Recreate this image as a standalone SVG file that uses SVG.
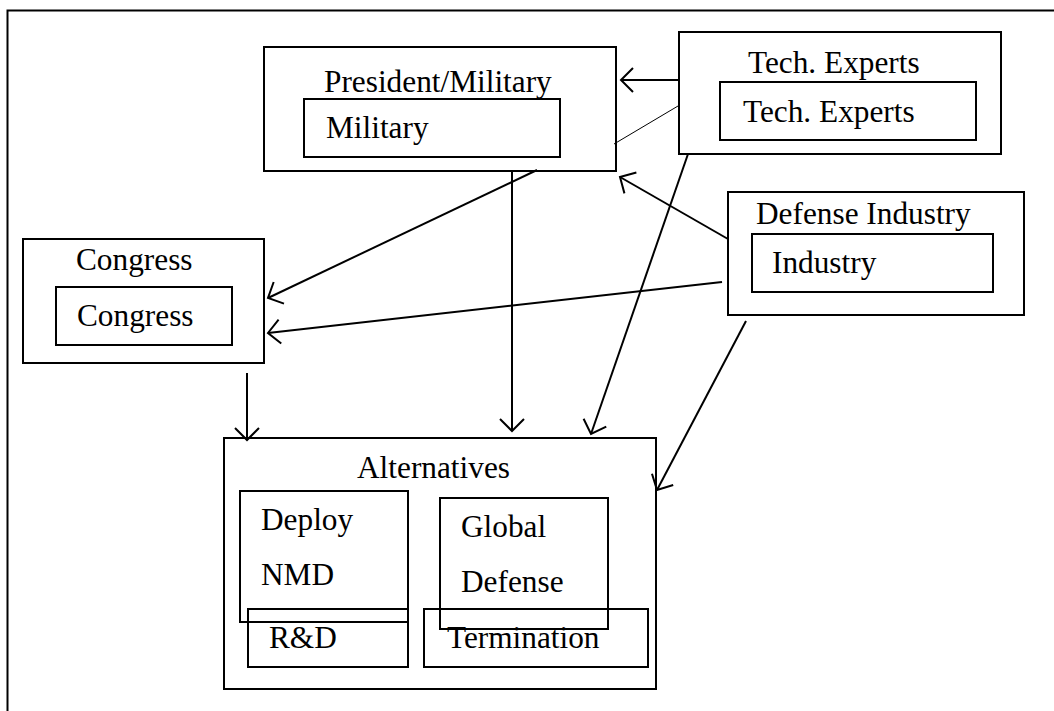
<svg xmlns="http://www.w3.org/2000/svg" width="1054" height="711" viewBox="0 0 1054 711">
<style>
.box{fill:none;stroke:#000;stroke-width:2}
.t{font-family:"Liberation Serif","Times New Roman",serif;font-size:31.3px;fill:#000}
.c{fill:none;stroke:#000;stroke-width:2}
.thin{fill:none;stroke:#000;stroke-width:1}
</style>
<defs>
<marker id="arr" viewBox="-16 -16 32 32" refX="0" refY="0" markerWidth="32" markerHeight="32" markerUnits="userSpaceOnUse" orient="auto" overflow="visible">
<path d="M-12,-12 L0,0 L-12,12" fill="none" stroke="#000" stroke-width="2"/>
</marker>
</defs>
<rect width="1054" height="711" fill="#fff"/>
<path d="M7.5,711 V10.5 H1054" class="box"/>
<g id="president">
<rect x="264" y="47" width="352" height="124" class="box"/>
<text x="324" y="92" class="t">President/Military</text>
<rect x="304" y="99" width="256" height="58" class="box"/>
<text x="326" y="138" class="t">Military</text>
</g>
<g id="tech">
<rect x="679" y="32" width="322" height="122" class="box"/>
<text x="748" y="73" class="t">Tech. Experts</text>
<rect x="720" y="82" width="256" height="58" class="box"/>
<text x="743" y="122" class="t">Tech. Experts</text>
</g>
<g id="industry">
<rect x="728" y="192" width="296" height="123" class="box"/>
<text x="756" y="224" class="t">Defense Industry</text>
<rect x="752" y="234" width="241" height="58" class="box"/>
<text x="772" y="273" class="t">Industry</text>
</g>
<g id="congress">
<rect x="23" y="239" width="241" height="124" class="box"/>
<text x="76" y="270" class="t">Congress</text>
<rect x="56" y="287" width="176" height="58" class="box"/>
<text x="77" y="326" class="t">Congress</text>
</g>
<g id="alternatives">
<rect x="224" y="438" width="432" height="251" class="box"/>
<text x="357" y="478" class="t">Alternatives</text>
<rect x="240" y="491" width="168" height="131" class="box"/>
<text x="261" y="530" class="t">Deploy</text>
<text x="261" y="585" class="t">NMD</text>
<rect x="248" y="609" width="160" height="58" class="box"/>
<text x="269" y="648" class="t">R&amp;D</text>
<rect x="440" y="498" width="168" height="131" class="box"/>
<text x="461" y="537" class="t">Global</text>
<text x="461" y="592" class="t">Defense</text>
<rect x="424" y="609" width="224" height="58" class="box"/>
<text x="447" y="648" class="t">Termination</text>
</g>
<g id="connectors">
<line x1="680" y1="80" x2="621" y2="80" class="c" marker-end="url(#arr)"/>
<line x1="678" y1="106" x2="614" y2="144" class="thin"/>
<line x1="537" y1="170" x2="268" y2="298" class="c" marker-end="url(#arr)"/>
<line x1="512" y1="172" x2="512" y2="431" class="c" marker-end="url(#arr)"/>
<line x1="688" y1="154" x2="591" y2="434" class="c" marker-end="url(#arr)"/>
<line x1="728" y1="239" x2="620" y2="177" class="c" marker-end="url(#arr)"/>
<line x1="722" y1="282" x2="268" y2="333" class="c" marker-end="url(#arr)"/>
<line x1="746" y1="321" x2="657" y2="490" class="c" marker-end="url(#arr)"/>
<line x1="247" y1="373" x2="247" y2="440" class="c" marker-end="url(#arr)"/>
</g>
</svg>
